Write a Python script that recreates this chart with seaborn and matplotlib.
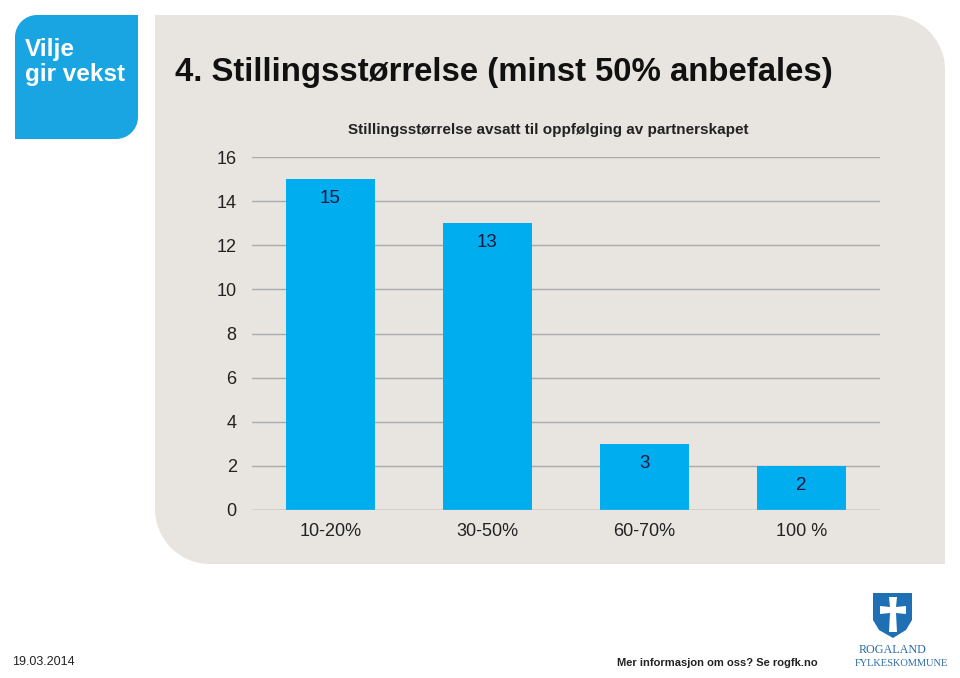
import matplotlib
matplotlib.use("Agg")
import matplotlib.pyplot as plt
from matplotlib.path import Path
from matplotlib.patches import PathPatch, Polygon
import pandas as pd
import seaborn as sns

categories = ["10-20%", "30-50%", "60-70%", "100 %"]
values = [15, 13, 3, 2]
yticks = [0, 2, 4, 6, 8, 10, 12, 14, 16]

title = "4. Stillingsstørrelse (minst 50% anbefales)"
subtitle = "Stillingsstørrelse avsatt til oppfølging av partnerskapet"

W, H = 960, 678
BLUE = "#00aeef"
PANEL = "#e8e5e0"


def px(points):
    # pixel coords (y down) -> figure fraction
    return [(x / W, (H - y) / H) for x, y in points]


def rounded_rect(x0, y0, x1, y1, radii):
    # radii: (top-left, top-right, bottom-right, bottom-left), pixels, y pointing down
    tl, tr, br, bl = radii
    k = 0.5523
    verts, codes = [], []

    def move(p):
        verts.append(p); codes.append(Path.MOVETO)

    def line(p):
        verts.append(p); codes.append(Path.LINETO)

    def curve(c1, c2, p):
        verts.extend([c1, c2, p]); codes.extend([Path.CURVE4] * 3)

    move((x0 + tl, y0))
    line((x1 - tr, y0))
    if tr:
        curve((x1 - tr + k * tr, y0), (x1, y0 + tr - k * tr), (x1, y0 + tr))
    line((x1, y1 - br))
    if br:
        curve((x1, y1 - br + k * br), (x1 - br + k * br, y1), (x1 - br, y1))
    line((x0 + bl, y1))
    if bl:
        curve((x0 + bl - k * bl, y1), (x0, y1 - bl + k * bl), (x0, y1 - bl))
    line((x0, y0 + tl))
    if tl:
        curve((x0, y0 + tl - k * tl), (x0 + tl - k * tl, y0), (x0 + tl, y0))
    verts.append((x0 + tl, y0)); codes.append(Path.CLOSEPOLY)
    return Path(px(verts), codes)


sns.set_theme(style="white")
plt.rcParams["font.family"] = ["Liberation Sans", "DejaVu Sans"]

fig = plt.figure(figsize=(W / 100, H / 100), dpi=100)
fig.patch.set_facecolor("white")

# grey content panel (behind the axes)
fig.patches.append(PathPatch(rounded_rect(155, 15, 945, 564, (0, 55, 0, 55)),
                             transform=fig.transFigure, facecolor=PANEL, edgecolor="none", zorder=-2))
# "Vilje gir vekst" logo
fig.patches.append(PathPatch(rounded_rect(15, 15, 138, 139, (22, 0, 22, 0)),
                             transform=fig.transFigure, facecolor="#19a5e1", edgecolor="none", zorder=-1))
fig.text(25 / W, 1 - 62 / H, "Vilje\ngir vekst", color="white", fontsize=17.5, fontweight="bold",
         ha="left", va="center", linespacing=1.1)

fig.text(175 / W, 1 - 73 / H, title, fontsize=23.7, fontweight="bold", ha="left", va="center",
         color="#111111")
fig.text(548 / W, 1 - 130 / H, subtitle, fontsize=11, fontweight="bold", ha="center", va="center",
         color="#222222")

ax = fig.add_axes([252 / W, (H - 510) / H, 628 / W, 353 / H])
ax.set_facecolor("none")
df = pd.DataFrame({"kategori": categories, "antall": values})
sns.barplot(data=df, x="kategori", y="antall", color=BLUE, saturation=1, width=0.57,
            edgecolor="none", linewidth=0, ax=ax, zorder=3)

ax.set_ylim(0, 16)
ax.set_xlim(-0.5, len(categories) - 0.5)
ax.set_yticks(yticks)
ax.yaxis.grid(True, color="#aaaaaa", linewidth=1, zorder=0)
ax.set_axisbelow(True)
for s in ax.spines.values():
    s.set_visible(False)
ax.axhline(0, color="#aaaaaa", linewidth=1, zorder=4)
ax.tick_params(axis="y", length=0, pad=11, labelsize=13, labelcolor="#222222")
ax.tick_params(axis="x", length=0, pad=9, labelsize=13, labelcolor="#222222")
ax.set_xlabel("")
ax.set_ylabel("")

# value labels just inside the top of each bar
for cont in ax.containers:
    for t in ax.bar_label(cont, labels=[str(v) for v in values], label_type="edge", padding=-14,
                          fontsize=13.5, color="#1a1a40"):
        t.set_va("center")

fig.text(12 / W, 1 - 662 / H, "19.03.2014", fontsize=9, ha="left", va="center", color="#222222")
fig.text(617 / W, 1 - 663 / H, "Mer informasjon om oss? Se rogfk.no", fontsize=8, fontweight="bold",
         ha="left", va="center", color="#222222")

# Rogaland shield with white cross
shield = [(873, 593), (912, 593), (912, 620), (906, 630), (893, 638), (879, 630), (873, 620)]
fig.patches.append(Polygon(px(shield), closed=True, transform=fig.transFigure,
                           facecolor="#1f6fb5", edgecolor="none"))
cross = [(889, 597), (897, 597), (896, 607), (906, 606), (906, 614), (896, 613), (897, 632),
         (889, 632), (890, 613), (880, 614), (880, 606), (890, 607)]
fig.patches.append(Polygon(px(cross), closed=True, transform=fig.transFigure,
                           facecolor="white", edgecolor="none"))
fig.text(893 / W, 1 - 650 / H, "ROGALAND", family="Liberation Serif", fontsize=8.7, ha="center",
         va="center", color="#2a6aa5")
fig.text(901 / W, 1 - 663 / H, "FYLKESKOMMUNE", family="Liberation Serif", fontsize=7.5,
         ha="center", va="center", color="#2a6aa5")

fig.savefig("out.png", dpi=100, facecolor=fig.get_facecolor())
